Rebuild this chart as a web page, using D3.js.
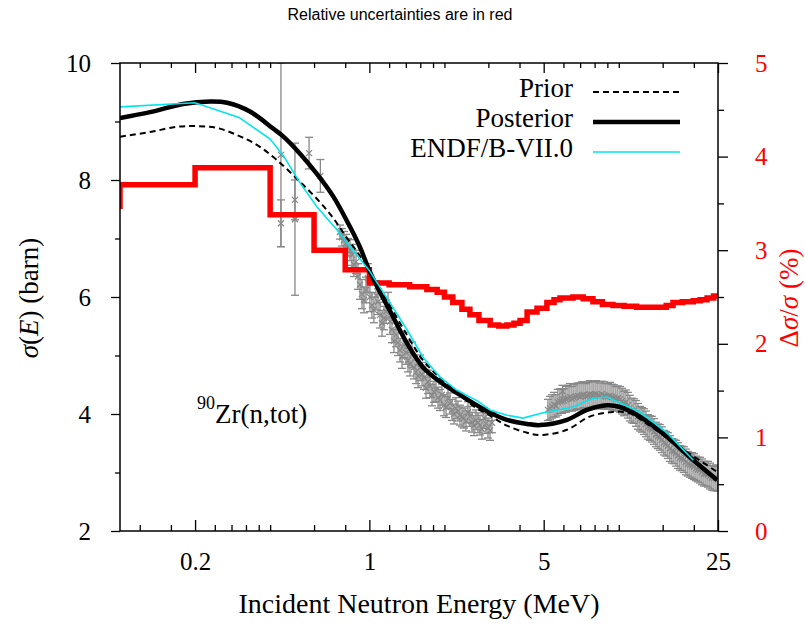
<!DOCTYPE html>
<html><head><meta charset="utf-8">
<script src="https://cdn.jsdelivr.net/npm/d3@7"></script>
<style>body{margin:0;background:#fff}
.serif{font-family:"Liberation Serif","DejaVu Serif",serif;}
.sans{font-family:"Liberation Sans","DejaVu Sans",sans-serif;}
</style>
</head><body>
<svg id="chart" width="805" height="629"></svg>
<script>
// ---------- data ----------
const priorEnergy = [0.1,0.132,0.169,0.204,0.245,0.294,0.354,0.426,0.527,0.634,0.716,0.80,0.90,1.0,1.1,1.21,1.415,1.64,1.92,2.24,2.6,3.05,3.56,4.29,4.83,6.2,7.6,9.2,10.9,13.5,17.5,24.8];
const priorSigma  = [8.74,8.82,8.91,8.92,8.89,8.77,8.60,8.34,7.97,7.62,7.35,7.05,6.75,6.45,6.14,5.85,5.35,4.92,4.62,4.38,4.14,3.97,3.80,3.68,3.64,3.73,3.95,4.03,4.02,3.78,3.44,3.01];

const posteriorEnergy = [0.1,0.132,0.179,0.230,0.269,0.332,0.411,0.45,0.527,0.617,0.716,0.836,0.917,1.0,1.103,1.21,1.415,1.64,1.92,2.24,2.6,3.05,3.56,4.29,4.83,6.2,7.45,8.97,10.1,12.2,15.6,19.3,24.8];
const posteriorSigma  = [9.06,9.16,9.30,9.34,9.32,9.17,8.88,8.75,8.45,8.10,7.72,7.20,6.85,6.45,6.08,5.76,5.21,4.80,4.55,4.36,4.19,4.02,3.90,3.83,3.81,3.90,4.07,4.15,4.12,3.95,3.61,3.26,2.87];

const endfEnergy = [0.1,0.2,0.3,0.4,0.451,0.527,0.617,0.741,0.86,1.0,1.21,1.415,1.64,1.92,2.24,2.72,3.05,3.56,4.13,4.97,6.55,7.88,8.97,12.2,15.6,19.9];
const endfSigma  = [9.25,9.32,9.07,8.70,8.42,7.95,7.54,7.15,6.80,6.45,5.90,5.44,4.97,4.63,4.41,4.22,4.07,3.98,3.93,4.02,4.12,4.27,4.29,4.03,3.68,3.21];

const uncEnergy  = [0.1,0.1,0.2,0.4,0.6,0.8,1.0,1.2,1.45,1.7,1.87,2.0,2.16,2.35,2.53,2.75,3.05,3.3,3.56,3.8,4.02,4.29,4.7,5.15,5.5,5.81,6.55,7.2,7.88,8.6,9.48,10.5,11.8,14.2,15.5,16.5,18.0,19.9,21.2,22.6,24.0,25];
const uncPercent = [3.44,3.70,3.88,3.38,3.00,2.79,2.65,2.63,2.61,2.58,2.55,2.50,2.44,2.37,2.31,2.25,2.20,2.19,2.20,2.22,2.25,2.34,2.38,2.44,2.47,2.49,2.50,2.48,2.45,2.42,2.41,2.40,2.39,2.39,2.41,2.44,2.45,2.46,2.47,2.49,2.51,2.52];

const expEnergy = [0.442,0.442,0.503,0.503,0.573,0.636,
  0.762,0.791,0.821,0.851,0.884,0.917,0.951,0.987,1.024,1.063,1.103,1.145,1.188,1.232,1.279,1.327,1.377,1.428,1.482,1.538,1.596,1.656,1.718,1.783,1.850,1.919,1.992,2.066,2.144,2.225,2.308,2.395,2.485,2.578,2.675,2.776,2.880,2.989,3.101,
  0.776,0.806,0.836,0.867,0.900,0.934,0.969,1.005,1.043,1.083,1.124,1.166,1.210,1.255,1.303,1.352,1.402,1.455,1.510,1.567,1.626,1.687,1.750,1.816,1.884,1.955,2.029,2.105,2.184,2.266,2.351,2.440,2.531,2.626,2.725,2.828,2.934,3.045,
  5.95,5.20,5.40,5.60,5.81,6.03,6.26,6.49,6.74,6.99,7.25,7.52,7.81,8.10,8.41,8.72,9.05,9.39,9.74,10.11,10.49,10.88,11.29,11.72,12.16,12.62,13.09,13.58,14.09,14.62,15.17,15.74,16.33,16.95,17.58,18.24,18.93,19.66,20.40,21.17,21.96,22.79,23.64,24.53,
  5.30,5.50,5.70,5.92,6.14,6.37,6.61,6.86,7.12,7.38,7.66,7.95,8.25,8.56,8.88,9.22,9.56,9.92,10.30,10.68,11.08,11.50,11.94,12.39,12.85,13.33,13.83,14.35,14.89,15.45,16.03,16.64,17.26,17.91,18.58,19.29,20.03,20.78,21.56,22.37,23.21,24.08,24.9];
const expSigma = [8.43,7.26,7.33,7.66,8.46,8.07,
  7.11,6.97,6.85,6.72,6.60,6.21,5.95,6.32,5.86,6.03,5.69,5.64,5.86,5.44,5.35,5.09,5.18,4.92,5.01,4.72,4.79,4.62,4.55,4.32,4.41,4.24,4.15,4.27,4.07,4.10,3.98,3.93,4.03,3.86,3.90,3.81,3.93,3.76,3.85,
  7.02,6.92,6.80,6.55,6.35,6.05,6.12,6.00,5.78,5.92,5.55,5.75,5.58,5.25,5.22,4.98,5.05,4.85,4.80,4.65,4.68,4.45,4.48,4.38,4.28,4.33,4.12,4.18,4.00,4.05,3.95,3.88,3.96,3.80,3.85,3.74,3.84,3.72,
  4.39,4.07,4.13,4.14,4.22,4.23,4.27,4.26,4.30,4.30,4.33,4.31,4.33,4.34,4.31,4.32,4.30,4.29,4.26,4.25,4.18,4.15,4.06,4.01,3.92,3.87,3.78,3.74,3.65,3.60,3.51,3.46,3.37,3.33,3.25,3.22,3.15,3.12,3.07,3.04,2.98,2.97,2.91,2.91,
  4.10,4.16,4.20,4.22,4.25,4.29,4.28,4.31,4.32,4.30,4.34,4.33,4.32,4.34,4.30,4.31,4.28,4.27,4.22,4.20,4.10,4.05,3.96,3.90,3.83,3.76,3.70,3.62,3.56,3.49,3.41,3.36,3.29,3.24,3.18,3.13,3.10,3.05,3.01,2.98,2.94,2.90,2.89];
const expError = [1.57,0.40,1.30,0.34,0.27,0.28,
  0.12,0.15,0.15,0.18,0.20,0.25,0.22,0.25,0.22,0.25,0.22,0.20,0.22,0.22,0.20,0.20,0.22,0.20,0.22,0.20,0.22,0.20,0.20,0.18,0.20,0.18,0.18,0.18,0.18,0.18,0.17,0.17,0.18,0.17,0.17,0.17,0.18,0.17,0.17,
  0.15,0.15,0.18,0.20,0.22,0.25,0.22,0.25,0.22,0.22,0.22,0.20,0.22,0.20,0.22,0.20,0.20,0.20,0.20,0.20,0.20,0.18,0.20,0.18,0.18,0.18,0.18,0.18,0.17,0.17,0.17,0.17,0.17,0.17,0.17,0.17,0.17,0.17,
  0.10,0.18,0.20,0.19,0.21,0.20,0.22,0.21,0.22,0.23,0.22,0.23,0.22,0.23,0.22,0.23,0.22,0.22,0.21,0.22,0.21,0.22,0.21,0.22,0.21,0.22,0.21,0.22,0.21,0.22,0.21,0.22,0.21,0.22,0.21,0.22,0.21,0.22,0.21,0.22,0.21,0.22,0.21,0.22,
  0.20,0.21,0.22,0.21,0.22,0.23,0.22,0.22,0.23,0.22,0.23,0.22,0.23,0.22,0.22,0.23,0.22,0.21,0.22,0.21,0.22,0.21,0.22,0.21,0.22,0.21,0.22,0.21,0.22,0.21,0.22,0.21,0.22,0.21,0.22,0.21,0.22,0.21,0.22,0.21,0.22,0.21,0.21];

const xMajor = [0.2,1,5,25];
const xLabels = ["0.2","1","5","25"];
const xMinor = [0.12,0.16,0.24,0.28,0.32,0.36,0.4,0.6,0.8,1.2,1.4,1.6,1.8,2,3,4,6,7,8,9,10,15,20];
const yMajor = [2,4,6,8,10];
const yMinor = [3,5,7,9];
const y2Major = [0,1,2,3,4,5];
const y2Minor = [0.5,1.5,2.5,3.5,4.5];

const legendNames = ["Prior","Posterior","ENDF/B-VII.0"];

// ---------- setup ----------
const svg = d3.select("#chart");
const P = {left:120, right:718, top:63, bottom:531};
const x = d3.scaleLog().domain([0.1,25]).range([P.left,P.right]);
const y = d3.scaleLinear().domain([2,10]).range([P.bottom,P.top]);
const y2 = d3.scaleLinear().domain([0,5]).range([P.bottom,P.top]);

svg.append("rect").attr("width",805).attr("height",629).attr("fill","#fff");

svg.append("defs").append("clipPath").attr("id","clip")
  .append("rect").attr("x",P.left).attr("y",P.top)
  .attr("width",P.right-P.left).attr("height",P.bottom-P.top);

const plotG = svg.append("g").attr("clip-path","url(#clip)");

// experimental data with error bars
const expData = expEnergy.map((e,i)=>({e, v:expSigma[i], err:expError[i]}));
const eg = plotG.append("g").attr("stroke","#888888").attr("stroke-width",1.3).attr("fill","none");
expData.forEach(d=>{
  const cx = x(d.e), y0 = y(d.v-d.err), y1 = y(d.v+d.err), cy = y(d.v);
  eg.append("line").attr("x1",cx).attr("x2",cx).attr("y1",y0).attr("y2",y1);
  eg.append("line").attr("x1",cx-4).attr("x2",cx+4).attr("y1",y0).attr("y2",y0);
  eg.append("line").attr("x1",cx-4).attr("x2",cx+4).attr("y1",y1).attr("y2",y1);
  eg.append("path").attr("d",`M${cx-3},${cy-3}L${cx+3},${cy+3}M${cx-3},${cy+3}L${cx+3},${cy-3}`);
});

// relative uncertainty (red steps)
const uncData = uncEnergy.map((e,i)=>[e,uncPercent[i]]);
plotG.append("path").datum(uncData)
  .attr("fill","none").attr("stroke","#ff0000").attr("stroke-width",5.5)
  .attr("stroke-linejoin","miter")
  .attr("d", d3.line().x(d=>x(d[0])).y(d=>y2(d[1])).curve(d3.curveStepAfter));

// prior
plotG.append("path").datum(priorEnergy.map((e,i)=>[e,priorSigma[i]]))
  .attr("fill","none").attr("stroke","#000").attr("stroke-width",2).attr("stroke-dasharray","6,4")
  .attr("d", d3.line().x(d=>x(d[0])).y(d=>y(d[1])).curve(d3.curveCatmullRom.alpha(0.5)));
// posterior
plotG.append("path").datum(posteriorEnergy.map((e,i)=>[e,posteriorSigma[i]]))
  .attr("fill","none").attr("stroke","#000").attr("stroke-width",4.5)
  .attr("d", d3.line().x(d=>x(d[0])).y(d=>y(d[1])).curve(d3.curveCatmullRom.alpha(0.5)));
// ENDF
plotG.append("path").datum(endfEnergy.map((e,i)=>[e,endfSigma[i]]))
  .attr("fill","none").attr("stroke","#00e5ee").attr("stroke-width",1.6)
  .attr("d", d3.line().x(d=>x(d[0])).y(d=>y(d[1])));

// ---------- axes ----------
function style(g, color){
  g.select(".domain").remove();
  g.attr("font-family",null);
  g.selectAll("line").attr("stroke","#000").attr("stroke-width",1.3);
  g.selectAll("text").attr("class","serif").attr("font-size",25).attr("fill",color||"#000");
}
svg.append("g").attr("transform",`translate(0,${P.bottom})`)
  .call(d3.axisBottom(x).tickValues(xMajor).tickFormat((d,i)=>xLabels[i]).tickSize(-11).tickSizeOuter(0).tickPadding(21))
  .call(g=>style(g));
svg.append("g").attr("transform",`translate(0,${P.bottom})`)
  .call(d3.axisBottom(x).tickValues(xMinor).tickFormat("").tickSize(-6).tickSizeOuter(0))
  .call(g=>style(g));
svg.append("g").attr("transform",`translate(0,${P.top})`)
  .call(d3.axisTop(x).tickValues(xMajor).tickFormat("").tickSize(-10).tickSizeOuter(0))
  .call(g=>style(g));
svg.append("g").attr("transform",`translate(0,${P.top})`)
  .call(d3.axisTop(x).tickValues(xMinor).tickFormat("").tickSize(-5).tickSizeOuter(0))
  .call(g=>style(g));
svg.append("g").attr("transform",`translate(${P.left},0)`)
  .call(d3.axisLeft(y).tickValues(yMajor).tickFormat(d3.format("d")).tickSize(9).tickSizeOuter(0).tickPadding(20))
  .call(g=>style(g));
svg.append("g").attr("transform",`translate(${P.left},0)`)
  .call(d3.axisLeft(y).tickValues(yMinor).tickFormat("").tickSize(5).tickSizeOuter(0))
  .call(g=>style(g));
svg.append("g").attr("transform",`translate(${P.right},0)`)
  .call(d3.axisRight(y2).tickValues(y2Major).tickFormat(d3.format("d")).tickSize(10).tickSizeOuter(0).tickPadding(27))
  .call(g=>style(g,"#ff0000"));
svg.append("g").attr("transform",`translate(${P.right},0)`)
  .call(d3.axisRight(y2).tickValues(y2Minor).tickFormat("").tickSize(6).tickSizeOuter(0))
  .call(g=>style(g));

// frame
svg.append("rect").attr("x",P.left).attr("y",P.top).attr("width",P.right-P.left).attr("height",P.bottom-P.top)
  .attr("fill","none").attr("stroke","#000").attr("stroke-width",1.5);

// ---------- texts ----------
svg.append("text").attr("class","sans").attr("x",400).attr("y",20).attr("text-anchor","middle")
  .attr("font-size",16).attr("fill","#000")
  .text("Relative uncertainties are in red");

svg.append("text").attr("class","serif").attr("x",419).attr("y",613).attr("text-anchor","middle")
  .attr("font-size",28).attr("fill","#000")
  .text("Incident Neutron Energy (MeV)");

const yl = svg.append("text").attr("class","serif").attr("transform","translate(38,298) rotate(-90)").attr("text-anchor","middle")
  .attr("font-size",27).attr("fill","#000");
yl.append("tspan").attr("font-style","italic").text("σ");
yl.append("tspan").text("(");
yl.append("tspan").attr("font-style","italic").text("E");
yl.append("tspan").text(") (barn)");

const yr = svg.append("text").attr("class","serif").attr("transform","translate(798,298) rotate(-90)").attr("text-anchor","middle")
  .attr("font-size",27).attr("fill","#ff0000");
yr.append("tspan").text("Δ");
yr.append("tspan").attr("font-style","italic").text("σ");
yr.append("tspan").text("/");
yr.append("tspan").attr("font-style","italic").text("σ");
yr.append("tspan").text(" (%)");

const zr = svg.append("text").attr("class","serif").attr("x",197).attr("y",423).attr("fill","#000");
zr.append("tspan").attr("font-size",18).attr("dy",-14).text("90");
zr.append("tspan").attr("font-size",27).attr("dy",14).text("Zr(n,tot)");

// legend
const legStyles = [
  {stroke:"#000", w:2, dash:"6,4"},
  {stroke:"#000", w:4.5, dash:null},
  {stroke:"#00e5ee", w:1.6, dash:null}
];
legendNames.forEach((name,i)=>{
  const by = 97 + i*30;
  svg.append("text").attr("class","serif").attr("x",573).attr("y",by).attr("text-anchor","end")
    .attr("font-size",27).attr("fill","#000").text(name);
  svg.append("line").attr("x1",593).attr("x2",680).attr("y1",by-5).attr("y2",by-5)
    .attr("stroke",legStyles[i].stroke).attr("stroke-width",legStyles[i].w)
    .attr("stroke-dasharray",legStyles[i].dash);
});
</script>
</body></html>
